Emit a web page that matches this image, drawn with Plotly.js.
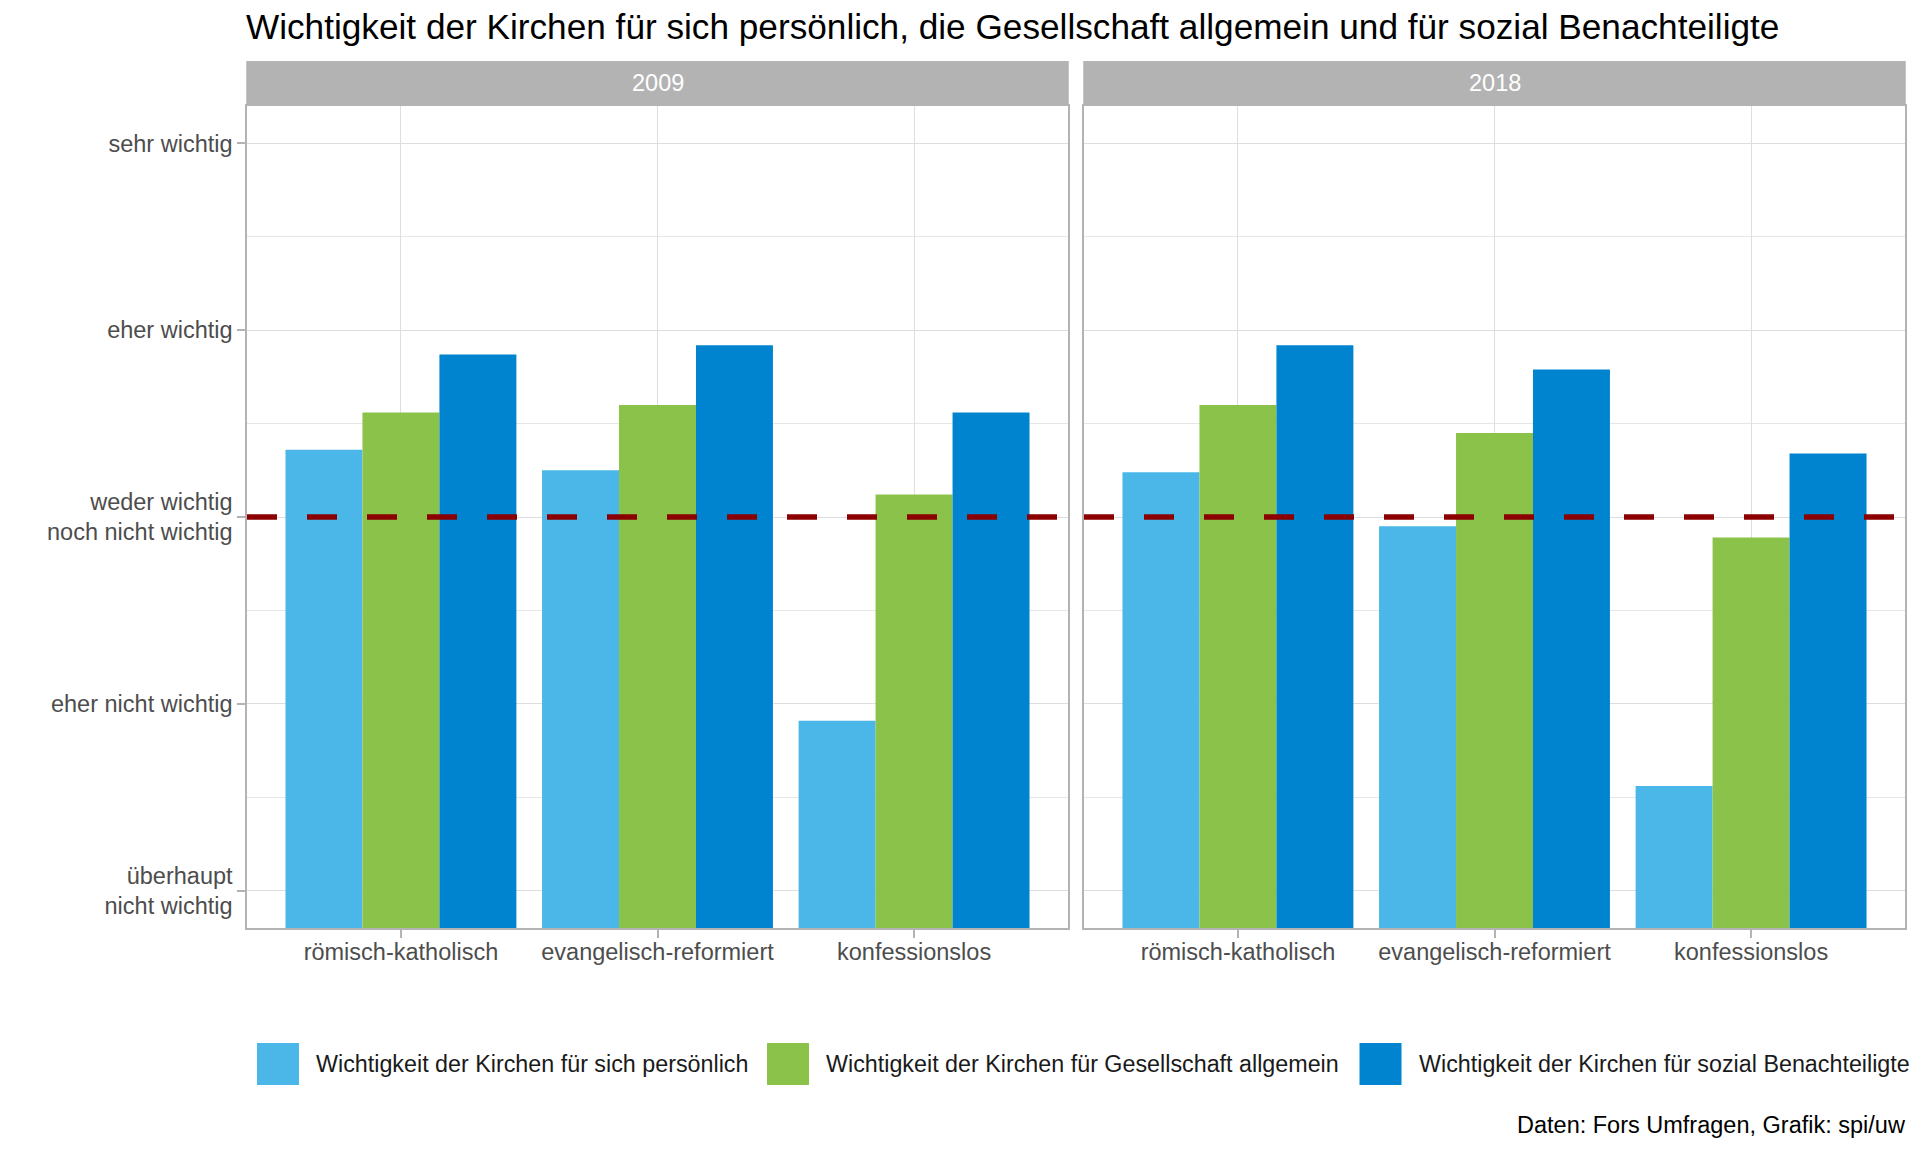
<!DOCTYPE html>
<html>
<head>
<meta charset="utf-8">
<script src="https://cdn.plot.ly/plotly-3.0.1.min.js"></script>
<style>
html, body { margin: 0; padding: 0; background: #ffffff; }
#chart { width: 1920px; height: 1152px; }
</style>
</head>
<body>
<div id="chart"></div>
<script>
// ---------- data ----------
const years = ['2009', '2018'];
const categories = ['römisch-katholisch', 'evangelisch-reformiert', 'konfessionslos'];
const seriesNames = [
  'Wichtigkeit der Kirchen für sich persönlich',
  'Wichtigkeit der Kirchen für Gesellschaft allgemein',
  'Wichtigkeit der Kirchen für sozial Benachteiligte'
];
const seriesColors = ['#4BB7E8', '#8BC34A', '#0084CF'];

const persoenlich2009    = [3.36, 3.25, 1.91];
const gesellschaft2009   = [3.56, 3.60, 3.12];
const benachteiligte2009 = [3.87, 3.92, 3.56];

const persoenlich2018    = [3.24, 2.95, 1.56];
const gesellschaft2018   = [3.60, 3.45, 2.89];
const benachteiligte2018 = [3.92, 3.79, 3.34];

const yTickVals = [1, 2, 3, 4, 5];
const yTickLabels = [
  'überhaupt<br>nicht wichtig',
  'eher nicht wichtig',
  'weder wichtig<br>noch nicht wichtig',
  'eher wichtig',
  'sehr wichtig'
];
const yMinorVals = [1.5, 2.5, 3.5, 4.5];
const referenceLevel = 3;

const titleText = 'Wichtigkeit der Kirchen für sich persönlich, die Gesellschaft allgemein und für sozial Benachteiligte';
const captionText = 'Daten: Fors Umfragen, Grafik: spi/uw';

// ---------- helpers ----------
const W = 1920, H = 1152;
const px = x => x / W;
const py = y => 1 - y / H;
const FONT = '"Liberation Sans", Arial, sans-serif';
const GREY70 = '#b3b3b3';
const GREY87 = '#dedede';
const AXIS_TEXT = '#4d4d4d';

const valuesByYear = {
  '2009': [persoenlich2009, gesellschaft2009, benachteiligte2009],
  '2018': [persoenlich2018, gesellschaft2018, benachteiligte2018]
};

const traces = [];
years.forEach((yr, yi) => {
  valuesByYear[yr].forEach((vals, si) => {
    traces.push({
      type: 'bar',
      x: categories,
      y: vals,
      base: 0,
      name: seriesNames[si],
      marker: { color: seriesColors[si], line: { width: 0 } },
      xaxis: yi === 0 ? 'x' : 'x2',
      yaxis: yi === 0 ? 'y' : 'y2',
      showlegend: false,
      hoverinfo: 'skip'
    });
  });
});

// panel geometry (pixels)
const panelTop = 106, panelBottom = 928;
const panels = [[247, 1068], [1084, 1905]];
const stripTop = 61;

const xAxisCommon = {
  type: 'category',
  range: [-0.6, 2.6],
  showline: true, mirror: true, linecolor: GREY70, linewidth: 1.5,
  ticks: 'outside', ticklen: 8, tickcolor: GREY70, tickwidth: 1.5,
  ticklabelstandoff: -6,
  tickfont: { family: FONT, size: 23.5, color: AXIS_TEXT },
  showgrid: true, gridcolor: GREY87, gridwidth: 1.4,
  zeroline: false, fixedrange: true
};
const yAxisCommon = {
  range: [0.8, 5.2],
  domain: [py(panelBottom), py(panelTop)],
  tickmode: 'array', tickvals: yTickVals, ticktext: yTickLabels,
  showline: true, mirror: true, linecolor: GREY70, linewidth: 1.5,
  tickfont: { family: FONT, size: 23.5, color: AXIS_TEXT },
  showgrid: true, gridcolor: GREY87, gridwidth: 1.4,
  minor: { tickmode: 'array', tickvals: yMinorVals, showgrid: true, gridcolor: '#e6e6e6', gridwidth: 0.8, ticks: '' },
  zeroline: false, fixedrange: true
};

const shapes = [];
const annotations = [];

// facet strips
years.forEach((yr, i) => {
  const [x0, x1] = panels[i];
  shapes.push({
    type: 'rect', xref: 'paper', yref: 'paper',
    x0: px(x0 - 0.75), x1: px(x1 + 0.75), y0: py(panelTop), y1: py(stripTop),
    fillcolor: GREY70, line: { width: 0 }, layer: 'above'
  });
  annotations.push({
    xref: 'paper', yref: 'paper', x: px((x0 + x1) / 2), y: py((panelTop + stripTop) / 2),
    xanchor: 'center', yanchor: 'middle', showarrow: false,
    text: yr, font: { family: FONT, size: 23.5, color: '#ffffff' }
  });
});

// reference line
['x', 'x2'].forEach((ax, i) => {
  shapes.push({
    type: 'line', xref: ax + ' domain', x0: 0, x1: 1,
    yref: i === 0 ? 'y' : 'y2', y0: referenceLevel, y1: referenceLevel,
    line: { color: '#8B0000', width: 5.5, dash: '30px,30px' }, layer: 'above'
  });
});

// manual legend (large square keys like the reference)
const legendKeyX = [257, 767, 1359.5];
const legendKeySize = 42;
const legendCenterY = 1064;
seriesNames.forEach((nm, i) => {
  shapes.push({
    type: 'rect', xref: 'paper', yref: 'paper',
    x0: px(legendKeyX[i]), x1: px(legendKeyX[i] + legendKeySize),
    y0: py(legendCenterY + legendKeySize / 2), y1: py(legendCenterY - legendKeySize / 2),
    fillcolor: seriesColors[i], line: { width: 0 }
  });
  annotations.push({
    xref: 'paper', yref: 'paper', x: px(legendKeyX[i] + legendKeySize + 15), y: py(legendCenterY),
    xanchor: 'left', yanchor: 'middle', showarrow: false,
    text: nm, font: { family: FONT, size: 23.3, color: '#1a1a1a' }
  });
});

// caption
annotations.push({
  xref: 'paper', yref: 'paper', x: px(1908), y: py(1125),
  xanchor: 'right', yanchor: 'middle', showarrow: false,
  text: captionText, font: { family: FONT, size: 23.5, color: '#000000' }
});

const layout = {
  width: W, height: H,
  margin: { l: 0, r: 0, t: 0, b: 0, autoexpand: false },
  paper_bgcolor: '#ffffff', plot_bgcolor: '#ffffff',
  font: { family: FONT },
  title: {
    text: titleText,
    font: { family: FONT, size: 35.2, color: '#000000' },
    x: px(246), xanchor: 'left', xref: 'paper',
    y: py(27), yanchor: 'middle', yref: 'paper'
  },
  barmode: 'group', bargap: 0.1, bargroupgap: 0,
  showlegend: false,
  xaxis: Object.assign({}, xAxisCommon, { domain: [px(panels[0][0]), px(panels[0][1])], anchor: 'y' }),
  xaxis2: Object.assign({}, xAxisCommon, { domain: [px(panels[1][0]), px(panels[1][1])], anchor: 'y2' }),
  yaxis: Object.assign({}, yAxisCommon, { anchor: 'x', ticks: 'outside', ticklen: 8, tickcolor: GREY70, tickwidth: 1.5 }),
  yaxis2: Object.assign({}, yAxisCommon, { anchor: 'x2', matches: 'y', showticklabels: false, ticks: '' }),
  shapes: shapes,
  annotations: annotations
};

Plotly.newPlot('chart', traces, layout, { displayModeBar: false, responsive: false });
</script>
</body>
</html>
